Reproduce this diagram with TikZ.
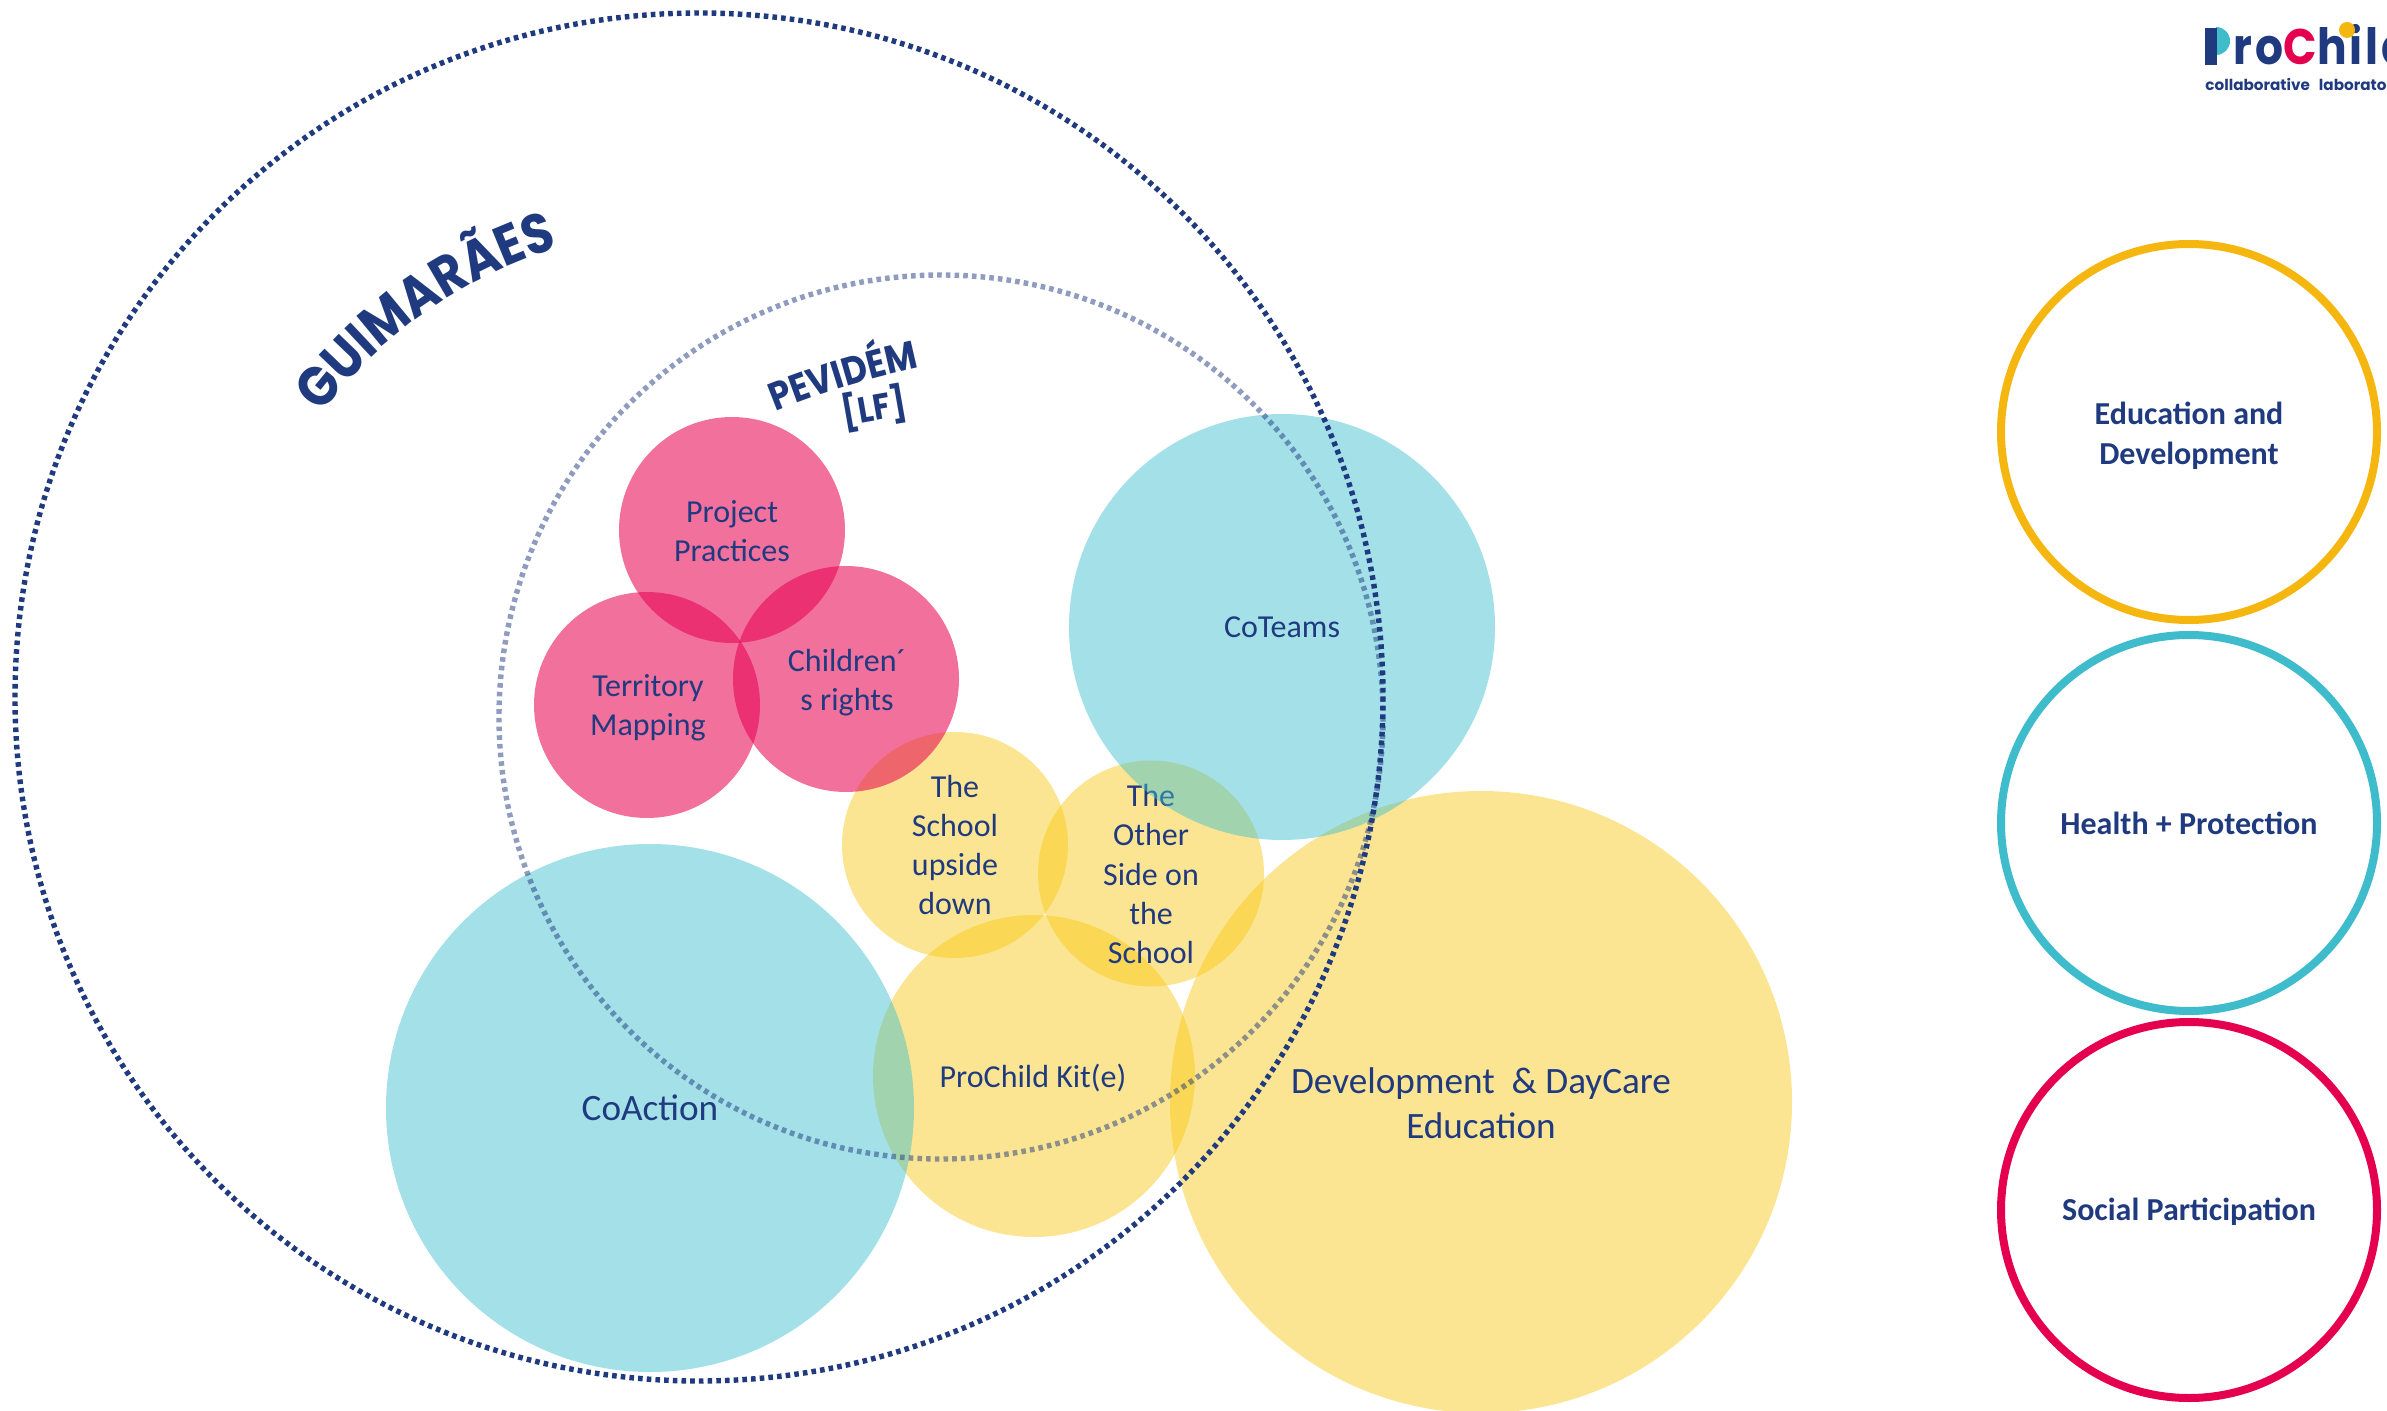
\documentclass[tikz,border=0pt]{standalone}
\usepackage{fontspec}
\setmainfont{Carlito}
\newfontfamily\popf{Poppins}
\newfontfamily\popn[FakeStretch=0.88]{Poppins}
\newfontfamily\popl[FakeStretch=0.88,LetterSpace=6]{Poppins}
\usetikzlibrary{decorations.text}
\definecolor{navy}{HTML}{203A80}
\definecolor{ylw}{HTML}{F7C408}
\definecolor{tl}{HTML}{3FBFCF}
\definecolor{pnk}{HTML}{E6004F}
\definecolor{lgy}{HTML}{F5B70F}
\definecolor{lgt}{HTML}{3FBCCB}
\definecolor{lgr}{HTML}{E4004E}
\tikzset{
  yellowc/.style={fill=ylw,fill opacity=0.44,draw=none},
  tealc/.style={fill=tl,fill opacity=0.48,draw=none},
  pinkc/.style={fill=pnk,fill opacity=0.56,draw=none},
  ring/.style={line width=4pt,fill=none},
  dots/.style={line width=2.7pt,draw=navy,dash pattern=on 2.3pt off 2.05pt},
  lab/.style={text=navy,align=center,inner sep=0pt,font=\fontsize{16}{19.6}\selectfont},
  biglab/.style={text=navy,align=center,inner sep=0pt,font=\fontsize{18.6}{22.4}\selectfont},
  leg/.style={text=navy,align=center,inner sep=0pt,font=\bfseries\fontsize{16}{20}\selectfont},
}
\begin{document}
\begin{tikzpicture}[x=0.5pt,y=-0.5pt]
\clip (0,0) rectangle (2387,1411);
% yellow circles and labels
\fill[yellowc] (1481,1102) circle (311);
\fill[yellowc] (1034,1076) circle (161);
\fill[yellowc] (955,845) circle (113);
\fill[yellowc] (1151,873.5) circle (113);
\node[lab] (school) at (955,845) {The\\School\\upside\\down};
\node[lab] (other) at (1151,874) {The\\Other\\Side on\\the\\School};
% teal circles
\fill[tealc] (650,1108) circle (264);
\fill[tealc] (1282,627) circle (213);
% pink circles
\fill[pinkc] (732,530) circle (113);
\fill[pinkc] (647,705) circle (113);
\fill[pinkc] (846,679) circle (113);
% dotted boundaries
\draw[dots] (699,697) circle (684);
\draw[dots,draw opacity=0.5] (941,717) circle (442);
% labels
\node[lab] (project) at (732,531) {Project\\Practices};
\node[lab] (territory) at (648,708) {Territory\\Mapping};
\node[lab] (children) at (847,683) {Children´\\s rights};
\node[lab] (kit) at (1033,1078) {ProChild Kit(e)};
\node[lab] (coteams) at (1282,627) {CoTeams};
\node[biglab] (coaction) at (650,1108) {CoAction};
\node[biglab] (dev) at (1481,1103) {Development\ \ \&~DayCare\\Education};
% curved titles
\path[postaction={decorate,decoration={text along path,text align=center,
  text={|\popn\bfseries\fontsize{28}{28}\selectfont\color{navy}|GUIMARÃES}}}]
  (321,414) arc[start angle=217,end angle=253,radius=470];
\path[postaction={decorate,decoration={text along path,text align=center,
  text={|\popn\bfseries\fontsize{19.6}{19.6}\selectfont\color{navy}|PEVIDÉM}}}]
  (776,411) arc[start angle=248,end angle=258,radius=853];
\node[text=navy,inner sep=0pt,rotate=10,font=\popn\bfseries\fontsize{18}{18}\selectfont] (lf) at (874,408) {[LF]};
% legend
\draw[ring,draw=lgy] (2189,432) circle (188);
\draw[ring,draw=lgt] (2189,823) circle (188);
\draw[ring,draw=lgr] (2189,1210) circle (188);
\node[leg] (l1) at (2189,436) {Education and\\Development};
\node[leg] (l2) at (2189,823) {Health + Protection};
\node[leg] (l3) at (2189,1212) {Social Participation};
% logo
\node[anchor=base west,inner sep=0pt,font=\popl\bfseries\fontsize{25}{25}\selectfont,text=navy] (logo) at (2203,65)
  {Pro{\color{lgr}C}hild};
\fill[lgt] (2216,27) arc[start angle=-90,end angle=90,radius=14] -- cycle;
\fill[navy] (2205,28) rectangle (2217,65);
\fill[lgy] (2347,30) circle (8);
\node[anchor=base west,inner sep=0pt,font=\popf\bfseries\fontsize{7.6}{9}\selectfont,text=navy] (sub) at (2205,91)
  {collaborative\hspace{4.5pt}laboratory};
\end{tikzpicture}
\end{document}
